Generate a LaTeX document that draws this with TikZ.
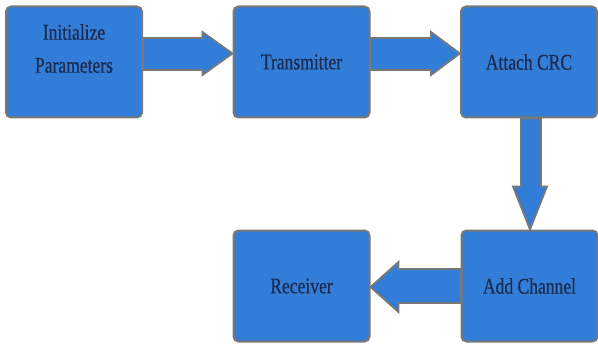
\documentclass[tikz,border=0pt]{standalone}
\usepackage{fontspec}
\newfontfamily\boxfont[FakeStretch=0.78,FakeBold=0.4]{Liberation Serif}
\usepackage{tikz}
\usetikzlibrary{calc}

\definecolor{boxblue}{RGB}{50,125,215}
\definecolor{boxgray}{RGB}{120,120,120}
\definecolor{boxtext}{RGB}{28,42,78}

\tikzset{
block/.style={draw=boxgray,line width=2pt,fill=boxblue,rounded corners=5pt,
  minimum width=136pt,minimum height=111pt,inner sep=0pt,
  text=boxtext,font=\boxfont\fontsize{22.5}{33}\selectfont,align=center},
label text/.style={text=boxtext,font=\boxfont\fontsize{22.5}{33}\selectfont,align=center},
bigarrow/.style={draw=boxgray,line width=1.8pt,fill=boxblue,line join=miter}
}

\begin{document}
\begin{tikzpicture}[x=1pt,y=1pt]
\useasboundingbox (0,0) rectangle (598,-345);
% blocks
\node[block] (init) at (74,-62) {};
\node[label text] (initlbl) at ([yshift=13.5pt]init.center) {Initialize\\Parameters};
\node[block] (tx) at (301.5,-62) {\raisebox{-2pt}{Transmitter}};
\node[block] (crc) at (529,-62) {\raisebox{-2pt}{Attach CRC}};
\node[block] (rx) at (301.5,-286) {Receiver};
\node[block] (ch) at (529.5,-286) {Add Channel};
% arrows
\draw[bigarrow] ($(init.east)+(0,24)$)--($(tx.west)+(-30,24)$)--($(tx.west)+(-30,30)$)
  --($(tx.west)+(0,8.5)$)--($(tx.west)+(-30,-13)$)--($(tx.west)+(-30,-8)$)
  --($(init.east)+(0,-8)$)--cycle;
\draw[bigarrow] ($(tx.east)+(0,24)$)--($(crc.west)+(-29,24)$)--($(crc.west)+(-29,30)$)
  --($(crc.west)+(0,8.5)$)--($(crc.west)+(-29,-13)$)--($(crc.west)+(-29,-8)$)
  --($(tx.east)+(0,-8)$)--cycle;
\draw[bigarrow] ($(crc.south)+(-8,0)$)--($(ch.north)+(-8.5,43)$)--($(ch.north)+(-16.5,43)$)
  --($(ch.north)+(0.5,0)$)--($(ch.north)+(17.5,43)$)--($(ch.north)+(11.5,43)$)
  --($(crc.south)+(12,0)$)--cycle;
\draw[bigarrow] ($(ch.west)+(0,17)$)--($(rx.east)+(28,17)$)--($(rx.east)+(28,24)$)
  --($(rx.east)+(0,-1)$)--($(rx.east)+(28,-26)$)--($(rx.east)+(28,-17)$)
  --($(ch.west)+(0,-17)$)--cycle;
\end{tikzpicture}
\end{document}
